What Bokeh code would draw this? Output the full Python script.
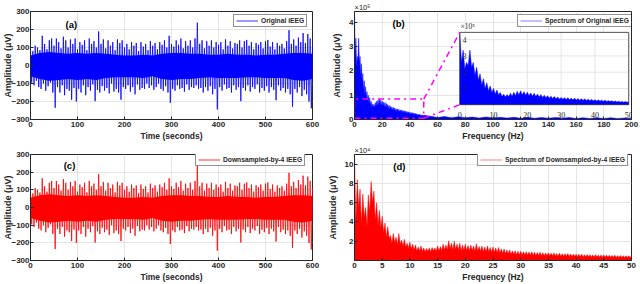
import numpy as np
from bokeh.plotting import figure
from bokeh.layouts import gridplot
from bokeh.models import Range1d, FixedTicker, Legend, LegendItem, Label
from bokeh.embed import file_html
from bokeh.resources import INLINE

FONT = "Liberation Sans"
AX = "#262626"
BLUE = "#0000ff"
RED = "#ff0000"
MAGENTA = "#ff00ff"

# ---------------- data ----------------
T_STEP = 5  # seconds between envelope readings
# upper peaks of the iEEG trace (uV), t = 0, 5, ..., 600 s
UPPER = [
    95, 80, 110, 100, 85, 165, 120, 90, 140, 150,
    110, 150, 130, 95, 160, 140, 100, 145, 120, 150,
    90, 130, 115, 140, 85, 150, 120, 135, 100, 189,
    120, 145, 95, 140, 110, 130, 85, 145, 125, 140,
    100, 120, 90, 130, 110, 125, 80, 130, 105, 120,
    85, 135, 110, 125, 90, 130, 115, 140, 100, 165,
    120, 105, 140, 115, 150, 95, 135, 110, 140, 100,
    150, 238, 120, 140, 95, 135, 110, 140, 100, 130,
    115, 130, 90, 145, 110, 135, 95, 125, 120, 140,
    100, 135, 142, 110, 130, 90, 125, 115, 130, 95,
    135, 142, 105, 130, 90, 125, 110, 120, 95, 135,
    196, 120, 145, 110, 155, 130, 180, 125, 175, 150,
    110]
# lower peaks (uV)
LOWER = [
    -95, -110, -85, -120, -130, -100, -140, -115, -95, -150,
    -235, -120, -150, -110, -165, -130, -140, -190, -125, -200,
    -130, -150, -110, -165, -120, -140, -105, -198, -135, -150,
    -115, -140, -125, -155, -100, -145, -130, -150, -190, -120,
    -130, -110, -145, -120, -160, -105, -135, -125, -130, -100,
    -125, -110, -135, -120, -100, -130, -140, -115, -150, -207,
    -130, -140, -110, -130, -125, -145, -105, -135, -120, -125,
    -110, -130, -125, -150, -120, -140, -115, -160, -130, -244,
    -120, -140, -105, -130, -125, -150, -110, -135, -120, -198,
    -125, -140, -110, -145, -120, -130, -105, -150, -125, -140,
    -115, -150, -120, -135, -193, -110, -140, -125, -150, -130,
    -160, -229, -130, -150, -120, -170, -135, -160, -200, -238,
    -120]
CORE_STEP = 20  # seconds
# edges of the dense central band (uV), t = 0, 20, ..., 600 s
CORE_UP = [55, 70, 75, 70, 65, 70, 65, 70, 65, 60, 55, 55, 60, 55, 65, 70,
           70, 65, 65, 60, 60, 65, 60, 60, 55, 60, 60, 65, 70, 70, 65]
CORE_LO = [-60, -75, -85, -80, -75, -80, -75, -80, -70, -65, -65, -65, -70, -60, -75, -80,
           -75, -75, -70, -65, -70, -70, -70, -65, -65, -70, -70, -70, -80, -85, -75]
TIME_TICKS = [0, 100, 200, 300, 400, 500, 600]
AMP_TICKS = [-300, -200, -100, 0, 100, 200, 300]

F_STEP = 0.5  # Hz
# spectrum of original iEEG, 0..50 Hz (x1e5)
SPEC_ORIG = [
    4.40, 2.6, 3.35, 2.2, 2.6, 2.4, 3.35, 2.3, 2.6, 1.8,
    2.3, 1.5, 1.9, 1.2, 1.6, 1.0, 1.35, 0.85, 1.15, 0.75,
    1.0, 0.65, 0.9, 0.6, 0.75, 0.5, 0.65, 0.48, 0.62, 0.5,
    0.7, 0.52, 0.76, 0.55, 0.82, 0.6, 0.86, 0.6, 0.8, 0.58,
    0.76, 0.55, 0.72, 0.52, 0.7, 0.5, 0.66, 0.48, 0.62, 0.45,
    0.58, 0.42, 0.55, 0.4, 0.52, 0.38, 0.5, 0.36, 0.47, 0.34,
    0.45, 0.33, 0.43, 0.32, 0.42, 0.31, 0.4, 0.3, 0.39, 0.29,
    0.38, 0.28, 0.36, 0.27, 0.35, 0.26, 0.33, 0.25, 0.32, 0.24,
    0.3, 0.23, 0.29, 0.22, 0.28, 0.21, 0.27, 0.2, 0.25, 0.19,
    0.24, 0.18, 0.22, 0.17, 0.21, 0.16, 0.2, 0.15, 0.19, 0.15,
    0.18]
# 55..200 Hz tail (x1e5)
TAIL_FREQ = [55, 60, 65, 70, 75, 80, 85, 90, 95, 100, 105, 110, 115, 120, 125,
             130, 135, 140, 145, 150, 155, 160, 165, 170, 175, 180, 185, 190, 195, 200]
SPEC_ORIG_TAIL = [0.13, 0.08, 0.12, 0.07, 0.11, 0.07, 0.10, 0.06, 0.10, 0.06,
                  0.09, 0.06, 0.09, 0.05, 0.09, 0.05, 0.08, 0.05, 0.08, 0.05,
                  0.08, 0.04, 0.07, 0.04, 0.07, 0.04, 0.07, 0.04, 0.06, 0.04]
FD_STEP = 0.25  # Hz
# spectrum of downsampled iEEG, 0..50 Hz (x1e4)
SPEC_DOWN = [
    11.0, 4.0, 8.4, 5.5, 7.4, 3.8, 6.9, 4.5, 5.5, 3.5, 6.8, 5.0, 8.2, 6.0, 7.2, 4.2, 6.0, 3.6, 5.2, 3.4,
    4.6, 2.9, 3.9, 2.4, 3.5, 2.3, 2.6, 1.8, 2.8, 1.9, 2.4, 1.6, 2.8, 1.7, 2.1, 1.5, 2.2, 1.4, 1.8, 1.3,
    1.9, 1.2, 1.7, 1.1, 1.6, 1.0, 1.4, 1.0, 1.5, 0.95, 1.3, 0.9, 1.25, 0.95, 1.3, 0.9, 1.35, 1.0, 1.3, 0.95,
    1.5, 1.0, 1.45, 1.05, 1.7, 1.1, 1.6, 1.15, 2.05, 1.2, 1.8, 1.1, 2.0, 1.15, 1.7, 1.1, 1.8, 1.05, 1.6, 1.05,
    1.7, 1.05, 1.55, 1.0, 1.6, 1.0, 1.5, 0.95, 1.75, 1.0, 1.45, 0.95, 1.5, 0.9, 1.4, 0.9, 1.5, 0.9, 1.35, 0.85,
    1.4, 0.85, 1.3, 0.8, 1.35, 0.8, 1.2, 0.75, 1.2, 0.7, 1.1, 0.7, 1.1, 0.65, 1.0, 0.65, 1.0, 0.6, 0.95, 0.6,
    0.95, 0.6, 0.9, 0.58, 0.92, 0.57, 0.88, 0.55, 0.9, 0.55, 0.85, 0.52, 0.82, 0.52, 0.86, 0.5, 0.8, 0.5, 0.78, 0.5,
    0.8, 0.48, 0.76, 0.47, 0.78, 0.46, 0.72, 0.45, 0.74, 0.45, 0.7, 0.44, 0.7, 0.43, 0.72, 0.42, 0.68, 0.42, 0.66, 0.41,
    0.66, 0.4, 0.64, 0.4, 0.65, 0.39, 0.6, 0.38, 0.62, 0.38, 0.6, 0.37, 0.58, 0.36, 0.6, 0.36, 0.56, 0.35, 0.57, 0.35,
    0.56, 0.34, 0.55, 0.34, 0.54, 0.33, 0.52, 0.33, 0.55, 0.32, 0.5, 0.32, 0.52, 0.31, 0.5, 0.31, 0.49, 0.3, 0.5, 0.3,
    0.48]
FREQ_TICKS_B = [0, 20, 40, 60, 80, 100, 120, 140, 160, 180, 200]
AMP_TICKS_B = [0, 1, 2, 3, 4]
FREQ_TICKS_D = [0, 5, 10, 15, 20, 25, 30, 35, 40, 45, 50]
AMP_TICKS_D = [2, 4, 6, 8, 10]
INSET_XTICKS = [0, 10, 20, 30, 40, 50]
INSET_YTICKS = [1, 2, 3, 4]

# zoom box (Hz, x1e5) and inset placement in panel (b) data space
ZOOM_F = (0, 50)
ZOOM_A = (0.05, 0.84)
INSET_X = (76, 198)
INSET_Y = (0.61, 3.59)

# ---------------- derived series ----------------
t = np.arange(len(UPPER)) * T_STEP
zig_x = np.column_stack([t, t + T_STEP / 2]).ravel()
zig_y = np.column_stack([UPPER, LOWER]).ravel()
t_core = np.arange(len(CORE_UP)) * CORE_STEP
freq = np.arange(len(SPEC_ORIG)) * F_STEP
freq_all = np.concatenate([freq, TAIL_FREQ])
spec_all = np.concatenate([SPEC_ORIG, SPEC_ORIG_TAIL])
freq_d = np.arange(len(SPEC_DOWN)) * FD_STEP


def make_fig(w, h, xr, yr, borders, exponent=None):
    l, r, tp, b = borders
    p = figure(width=w, height=h, x_range=Range1d(*xr), y_range=Range1d(*yr),
               output_backend="svg", toolbar_location=None,
               min_border_left=l, min_border_right=r, min_border_top=tp, min_border_bottom=b)
    if exponent:
        p.title.text = exponent
        p.title.align = "left"
        p.title.text_font = FONT
        p.title.text_font_size = "7.5px"
        p.title.text_font_style = "normal"
        p.title.text_color = AX
        p.title.offset = 0
        p.title.standoff = 0
    p.background_fill_color = "white"
    p.border_fill_color = "white"
    p.outline_line_color = AX
    p.outline_line_width = 1
    p.grid.grid_line_color = "#dedede"
    p.grid.grid_line_width = 0.8
    return p


def style_axes(p, xticks, yticks, xlabel, ylabel, ylab_standoff):
    p.xaxis.ticker = FixedTicker(ticks=xticks)
    p.yaxis.ticker = FixedTicker(ticks=yticks)
    for ax in (p.xaxis[0], p.yaxis[0]):
        ax.major_tick_in = 3
        ax.major_tick_out = 0
        ax.minor_tick_line_color = None
        ax.axis_line_color = AX
        ax.major_tick_line_color = AX
        ax.major_label_text_font = FONT
        ax.major_label_text_font_size = "8px"
        ax.major_label_text_font_style = "bold"
        ax.major_label_text_color = AX
        ax.axis_label_text_font = FONT
        ax.axis_label_text_font_style = "bold"
        ax.axis_label_text_color = AX
        ax.major_label_standoff = 1
    p.xaxis[0].major_label_standoff = 2
    p.xaxis[0].axis_label_text_font_size = "8.5px"
    p.xaxis[0].axis_label_standoff = 1
    p.yaxis[0].axis_label_text_font_size = "9px"
    p.yaxis[0].axis_label_standoff = ylab_standoff
    p.xaxis.axis_label = xlabel
    p.yaxis.axis_label = ylabel


def add_legend(p, label, renderer, loc):
    leg = Legend(items=[LegendItem(label=label, renderers=[renderer])], location=loc,
                 label_text_font=FONT, label_text_font_size="6.7px", label_text_font_style="bold",
                 label_text_color=AX, label_height=7, glyph_height=7, glyph_width=22,
                 label_standoff=3, padding=2, spacing=0, margin=0,
                 border_line_color=AX, border_line_width=0.8,
                 background_fill_color="white", background_fill_alpha=1)
    p.add_layout(leg)


def panel_label(p, x, y, text):
    p.add_layout(Label(x=x, y=y, text=text, text_font=FONT, text_font_size="9.5px",
                       text_font_style="bold", text_color="black",
                       text_align="center", text_baseline="middle"))


def time_panel(p, color):
    p.varea(x=t_core, y1=CORE_LO, y2=CORE_UP, fill_color=color, fill_alpha=1)
    return p.line(zig_x, zig_y, line_color=color, line_width=1, line_alpha=0.8)


# ---------------- (a) ----------------
pa = make_fig(320, 143, (0, 600), (-300, 300), (29, 8, 10, 23))
style_axes(pa, TIME_TICKS, AMP_TICKS, "Time (seconds)", "Amplitude (\u03bcV)", -5)
ra = time_panel(pa, BLUE)
add_legend(pa, "Original iEEG", ra, (203, 92))
panel_label(pa, 87, 229, "(a)")

# ---------------- (b) ----------------
pb = make_fig(320, 143, (0, 200), (0, 4.45), (34, 9, 11, 23), "\u00d710\u2075")
style_axes(pb, FREQ_TICKS_B, AMP_TICKS_B, "Frequency (Hz)", "Amplitude (\u03bcV)", 4)
pb.varea(x=freq_all, y1=0, y2=spec_all, fill_color=BLUE, fill_alpha=1)
rb = pb.line(freq_all, spec_all, line_color=BLUE, line_width=1, line_alpha=0.5)
pb.line([ZOOM_F[0], ZOOM_F[1], ZOOM_F[1], ZOOM_F[0], ZOOM_F[0]],
        [ZOOM_A[0], ZOOM_A[0], ZOOM_A[1], ZOOM_A[1], ZOOM_A[0]],
        line_color=MAGENTA, line_width=1.5, line_dash="dashdot")
pb.quad(left=INSET_X[0], right=INSET_X[1], bottom=INSET_Y[0], top=INSET_Y[1],
        fill_color="white", line_color=None)
inset = pb.subplot(x_source=Range1d(0, 50), y_source=Range1d(0, 4.45),
                   x_target=Range1d(*INSET_X), y_target=Range1d(*INSET_Y))
inset.segment(x0=INSET_XTICKS[1:-1], x1=INSET_XTICKS[1:-1], y0=0, y1=4.45,
              line_color="#dedede", line_width=0.8)
inset.segment(x0=0, x1=50, y0=INSET_YTICKS, y1=INSET_YTICKS,
              line_color="#dedede", line_width=0.8)
inset.varea(x=freq, y1=0, y2=SPEC_ORIG, fill_color=BLUE, fill_alpha=1)
inset.line(freq, SPEC_ORIG, line_color=BLUE, line_width=1, line_alpha=0.5)
pb.quad(left=INSET_X[0], right=INSET_X[1], bottom=INSET_Y[0], top=INSET_Y[1],
        fill_alpha=0, line_color=AX, line_width=0.8)
inset.text(x=INSET_XTICKS, y=-0.45, text=[str(v) for v in INSET_XTICKS],
           text_font="Liberation Sans", text_font_size="8px", text_color=AX,
           text_align="center", text_baseline="top")
inset.text(x=0.9, y=INSET_YTICKS, text=[str(v) for v in INSET_YTICKS],
           text_font="Liberation Sans", text_font_size="7.5px", text_color=AX,
           text_align="left", text_baseline="middle")
inset.text(x=0.2, y=4.55, text=["\u00d710\u2075"],
           text_font="Liberation Sans", text_font_size="7.5px", text_color=AX,
           text_align="left", text_baseline="bottom")
pb.segment(x0=[ZOOM_F[1], ZOOM_F[1]], y0=[ZOOM_A[1], ZOOM_A[0]],
           x1=[INSET_X[0], INSET_X[0]], y1=[INSET_Y[1], INSET_Y[0]],
           line_color=MAGENTA, line_width=1.5, line_dash="dashdot")
add_legend(pb, "Spectrum of Original iEEG", rb, (163, 92))
panel_label(pb, 31.8, 3.96, "(b)")

# ---------------- (c) ----------------
pc = make_fig(320, 141, (0, 600), (-300, 300), (29, 8, 7, 24))
style_axes(pc, TIME_TICKS, AMP_TICKS, "Time (seconds)", "Amplitude (\u03bcV)", -5)
rc = time_panel(pc, RED)
add_legend(pc, "Downsampled-by-4 IEEG", rc, (165, 94))
panel_label(pc, 83, 235, "(c)")

# ---------------- (d) ----------------
pd_ = make_fig(320, 141, (0, 50), (0, 11), (34, 9, 7, 24), "\u00d710\u2074")
style_axes(pd_, FREQ_TICKS_D, AMP_TICKS_D, "Frequency (Hz)", "Amplitude (\u03bcV)", 4)
pd_.varea(x=freq_d, y1=0, y2=SPEC_DOWN, fill_color=RED, fill_alpha=1)
rd = pd_.line(freq_d, SPEC_DOWN, line_color=RED, line_width=1, line_alpha=0.5)
add_legend(pd_, "Spectrum of Downsampled-by-4 IEEG", rd, (123, 94))
panel_label(pd_, 8.1, 9.8, "(d)")

grid = gridplot([[pa, pb], [pc, pd_]], toolbar_location=None)
open("out.html", "w").write(file_html(grid, INLINE))
